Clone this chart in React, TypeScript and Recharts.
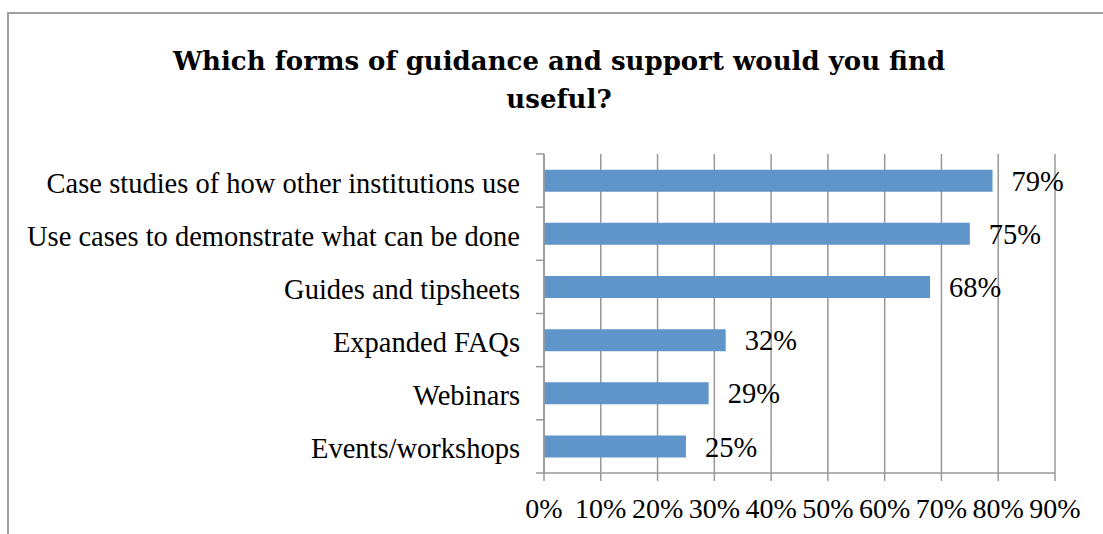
import React from "react";
import { BarChart, Bar, XAxis, YAxis, CartesianGrid, LabelList } from "recharts";

const categories = [
  "Case studies of how other institutions use",
  "Use cases to demonstrate what can be done",
  "Guides and tipsheets",
  "Expanded FAQs",
  "Webinars",
  "Events/workshops",
];
const values = [79, 75, 68, 32, 29, 25];
const xTicks = [0, 10, 20, 30, 40, 50, 60, 70, 80, 90];
const titleLines = ["Which forms of guidance and support would you find", "useful?"];

const data = categories.map((c, i) => ({ name: c, value: values[i] }));

const W = 1103;
const H = 534;
const MARGIN = { top: 154, right: 48, bottom: 21, left: 0 };
const X_AXIS_H = 40;
const Y_AXIS_W = 544;
const PLOT_H = H - MARGIN.top - MARGIN.bottom - X_AXIS_H;
const BAND = PLOT_H / categories.length;
const AXIS_COLOR = "#989898";
const FONT = "'Liberation Serif', serif";

function YTick(props: any) {
  const { x, y, payload, index } = props;
  const axisX = x + 24;
  const half = BAND / 2;
  return (
    <g>
      <text x={x} y={y} dy={12} textAnchor="end" fontFamily={FONT} fontSize={28.5} fill="#000">
        {payload.value}
      </text>
      <line x1={axisX - 8} x2={axisX} y1={y - half} y2={y - half} stroke={AXIS_COLOR} strokeWidth={1.5} />
      {index === categories.length - 1 && (
        <line x1={axisX - 8} x2={axisX} y1={y + half} y2={y + half} stroke={AXIS_COLOR} strokeWidth={1.5} />
      )}
    </g>
  );
}

export default function App() {
  return (
    <div style={{ position: "absolute", left: 0, top: 0, width: W, height: H, overflow: "hidden", background: "#fff" }}>
      <div
        style={{
          position: "absolute",
          left: 7,
          top: 12,
          width: 1300,
          height: 800,
          borderLeft: "2px solid #a0a0a0",
          borderTop: "2px solid #a0a0a0",
        }}
      />
      <div
        style={{
          position: "absolute",
          left: 0,
          top: 42,
          width: 1118,
          textAlign: "center",
          fontFamily: "'DejaVu Serif', serif",
          fontWeight: "bold",
          fontSize: 26,
          lineHeight: "38px",
          color: "#000",
        }}
      >
        {titleLines.map((t, i) => (
          <div key={i}>{t}</div>
        ))}
      </div>
      <div style={{ position: "absolute", left: 0, top: 0 }}>
        <BarChart width={W} height={H} data={data} layout="vertical" margin={MARGIN} barCategoryGap="29.5%">
          <CartesianGrid horizontal={false} stroke={AXIS_COLOR} strokeWidth={1.5} strokeDasharray="" />
          <XAxis
            type="number"
            domain={[0, 90]}
            ticks={xTicks}
            interval={0}
            height={X_AXIS_H}
            tickFormatter={(v: number) => `${v}%`}
            stroke={AXIS_COLOR}
            tickSize={8}
            tickMargin={17}
            tick={{ fill: "#000", fontFamily: FONT, fontSize: 28 }}
            axisLine={{ stroke: AXIS_COLOR, strokeWidth: 1.5 }}
            tickLine={{ stroke: AXIS_COLOR, strokeWidth: 1.5 }}
          />
          <YAxis
            type="category"
            dataKey="name"
            width={Y_AXIS_W}
            interval={0}
            tickSize={0}
            tickMargin={24}
            tickLine={false}
            axisLine={{ stroke: AXIS_COLOR, strokeWidth: 1.5 }}
            tick={<YTick />}
          />
          <Bar dataKey="value" fill="#5F95C9" isAnimationActive={false}>
            <LabelList
              dataKey="value"
              position="right"
              offset={19}
              formatter={(v: any) => `${v}%`}
              style={{ fill: "#000", fontFamily: FONT, fontSize: 28.5 }}
            />
          </Bar>
        </BarChart>
      </div>
    </div>
  );
}
